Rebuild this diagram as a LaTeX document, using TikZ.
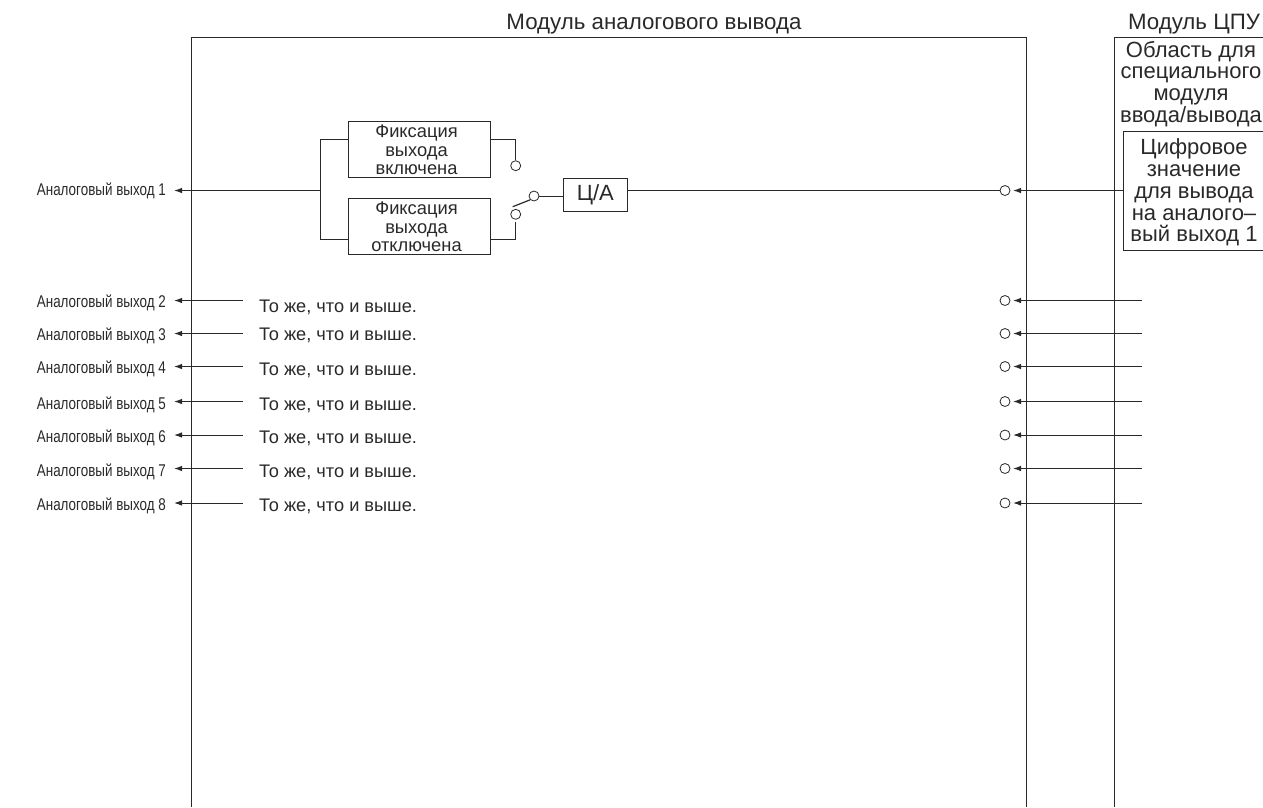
\documentclass[tikz,border=0pt]{standalone}
\usepackage{fontspec}
\setmainfont{Liberation Sans}
\usetikzlibrary{arrows.meta}
\definecolor{ink}{HTML}{2B2829}
\tikzset{
 wire/.style={draw=ink,line width=1pt},
 arr/.style={wire,-{Latex[length=8pt,width=5.5pt]},shorten >=0pt},
 txt/.style={text=ink,inner sep=0pt,align=center},
 fixbox/.style={draw=ink,line width=1pt,minimum width=142pt,minimum height=56.5pt,inner sep=0pt},
 contact/.style={circle,draw=ink,line width=0.8pt,minimum size=10pt,inner sep=0pt,fill=white},
 outl/.style={txt,anchor=east,font=\fontsize{17}{17}\selectfont,xscale=.79},
 same/.style={txt,anchor=west,font=\fontsize{18.2}{18}\selectfont},
 fixtext/.style={txt,font=\fontsize{18.3}{18.4}\selectfont},
 cputext/.style={txt,font=\fontsize{22}{21.8}\selectfont},
 titletext/.style={txt,font=\fontsize{22.3}{24}\selectfont},
}
\begin{document}
\begin{tikzpicture}[x=1pt,y=-1pt]
\useasboundingbox (0,0) rectangle (1263,807);
% module outlines
\coordinate (mbl) at (191.5,807); \coordinate (mtl) at (191.5,37);
\coordinate (mtr) at (1026.5,37); \coordinate (mbr) at (1026.5,807);
\draw[wire] (mbl) -- (mtl) -- (mtr) -- (mbr);
\coordinate (cbl) at (1114.5,807); \coordinate (ctl) at (1114.5,37); \coordinate (ctr) at (1263,37);
\draw[wire] (cbl) -- (ctl) -- (ctr);
\coordinate (itr) at (1263,131.5); \coordinate (itl) at (1123.5,131.5);
\coordinate (ibl) at (1123.5,250.5); \coordinate (ibr) at (1263,250.5);
\draw[wire] (itr) -- (itl) -- (ibl) -- (ibr);
% titles
\node[titletext,anchor=base] (title) at (654,29) {Модуль аналогового вывода};
\node[titletext,anchor=base] (cputitle) at (1194,29) {Модуль ЦПУ};
\node[cputext] (area) at (1191,84) {Область для\\специального\\модуля\\ввода/вывода};
\node[cputext] (digit) at (1194,192.5) {Цифровое\\значение\\для вывода\\на аналого–\\вый выход 1};
% channel 1
\node[fixbox] (on) at (419,149.7) {};
\node[fixtext] (ontext) at (416.5,150) {Фиксация\\выхода\\включена};
\node[fixbox] (off) at (419,226.3) {};
\node[fixtext] (offtext) at (416.5,227) {Фиксация\\выхода\\отключена};
\node[contact] (conon) at (515.7,165.7) {};
\node[contact] (conoff) at (515.7,214.3) {};
\node[contact] (conout) at (534,196) {};
\node[draw=ink,line width=1pt,minimum width=64pt,minimum height=33pt,txt,font=\fontsize{22}{22}\selectfont] (da) at (595.3,194.5) {\raisebox{-2pt}{Ц/А}};
\coordinate (junc) at (320,190.5);
\coordinate (juncup) at (320,139.3);
\coordinate (juncdn) at (320,239);
\coordinate (onr) at (515.7,139.3);
\coordinate (offr) at (515.7,239);
\coordinate (offe) at (515.7,222);
\coordinate (levs) at (512.7,206.7);
\draw[wire] (on.west |- juncup) -- (juncup) -- (juncdn) -- (off.west |- juncdn);
\draw[wire] (on.east |- onr) -- (onr) -- (conon.north);
\draw[wire] (off.east |- offr) -- (offr) -- (offe);
\draw[wire,line width=1.2pt] (levs) -- (conout.south west);
\draw[wire] (conout.east) -- (da.west |- conout.east);
\node[contact] (t1) at (1005,190.5) {};
\draw[wire] (da.east |- t1) -- (t1.west);
\coordinate (thA) at (691,190.5); \coordinate (thB) at (783,190.5);
\draw[draw=ink,line width=1.6pt] (thA) -- (thB);
\coordinate (aleft1) at (174,190.5);
\draw[arr] (junc) -- (aleft1);
\coordinate (aright1) at (1013,190.5);
\draw[arr] (itl |- aright1) -- (aright1);
\node[outl] (l1) at (166,190.5) {Аналоговый выход 1};
% channels 2-8
\foreach \n/\yy/\ly/\ty in {2/300.5/303/307,3/333.5/335.5/335.5,4/366.5/368.5/370,5/401.5/405/405,6/435/438/438.5,7/468.5/471.5/472,8/503/506/506.5}{
  \node[outl] (l\n) at (166,\ly) {Аналоговый выход \n};
  \node[same] (s\n) at (259,\ty) {То же, что и выше.};
  \coordinate (a\n) at (174,\yy);
  \coordinate (b\n) at (243,\yy);
  \draw[arr] (b\n) -- (a\n);
  \node[contact] (t\n) at (1005,\yy) {};
  \coordinate (c\n) at (1142,\yy);
  \coordinate (d\n) at (1013,\yy);
  \draw[arr] (c\n) -- (d\n);
}
\end{tikzpicture}
\end{document}
